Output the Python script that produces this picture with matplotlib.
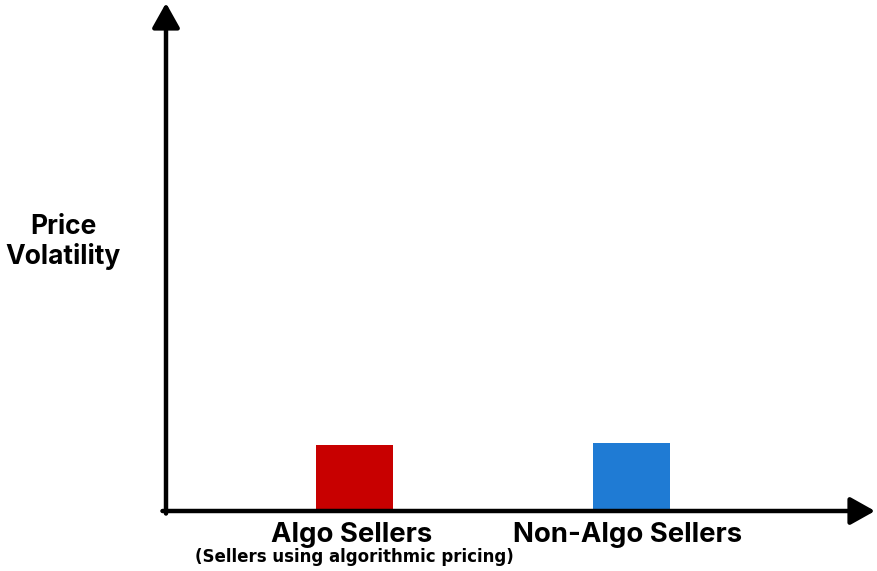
import matplotlib.pyplot as plt

categories = ['Algo Sellers', 'Non-Algo Sellers']
volatility = [1.30, 1.33]
bar_colors = ['#c80000', '#1f7bd4']
subtitle = '(Sellers using algorithmic pricing)'

plt.rcParams['font.family'] = ['Inter', 'DejaVu Sans']

W, H = 877, 571
fig = plt.figure(figsize=(W / 100, H / 100), dpi=100)

# axes box in pixels: origin at (166, 511), top at y=3, right at x=875
left, bottom, right, top = 166, 511, 875, 3
ax = fig.add_axes([left / W, 1 - bottom / H, (right - left) / W, (bottom - top) / H])

positions = [0, 1]
ax.bar(positions, volatility, width=0.278, color=bar_colors, zorder=1)

ax.set_xlim(-0.682, 1.882)
ax.set_ylim(0, 10)
for s in ax.spines.values():
    s.set_visible(False)
ax.set_xticks([])
ax.set_yticks([])

arrow = dict(arrowstyle='-|>,head_length=0.75,head_width=0.42', color='black',
             lw=3.2, shrinkA=0, shrinkB=0, mutation_scale=20)
ax.annotate('', xy=(1, 0), xytext=(-0.005, 0), xycoords='axes fraction',
            arrowprops=arrow, zorder=3, annotation_clip=False)
ax.annotate('', xy=(0, 1), xytext=(0, -0.005), xycoords='axes fraction',
            arrowprops=arrow, zorder=3, annotation_clip=False)

trans = ax.get_xaxis_transform()
for x, name in zip(positions, categories):
    ax.text(x - 0.012, -0.022, name, ha='center', va='top', fontsize=19.8,
            fontweight='bold', transform=trans)
ax.text(positions[0], -0.073, subtitle, ha='center', va='top',
        fontsize=12, fontweight='bold', family='DejaVu Sans', transform=trans)

fig.text(63 / W, 1 - 242 / H, 'Price\nVolatility', ha='center', va='center',
         fontsize=19, fontweight='bold', linespacing=1.15)

fig.savefig('out.png', dpi=100)
